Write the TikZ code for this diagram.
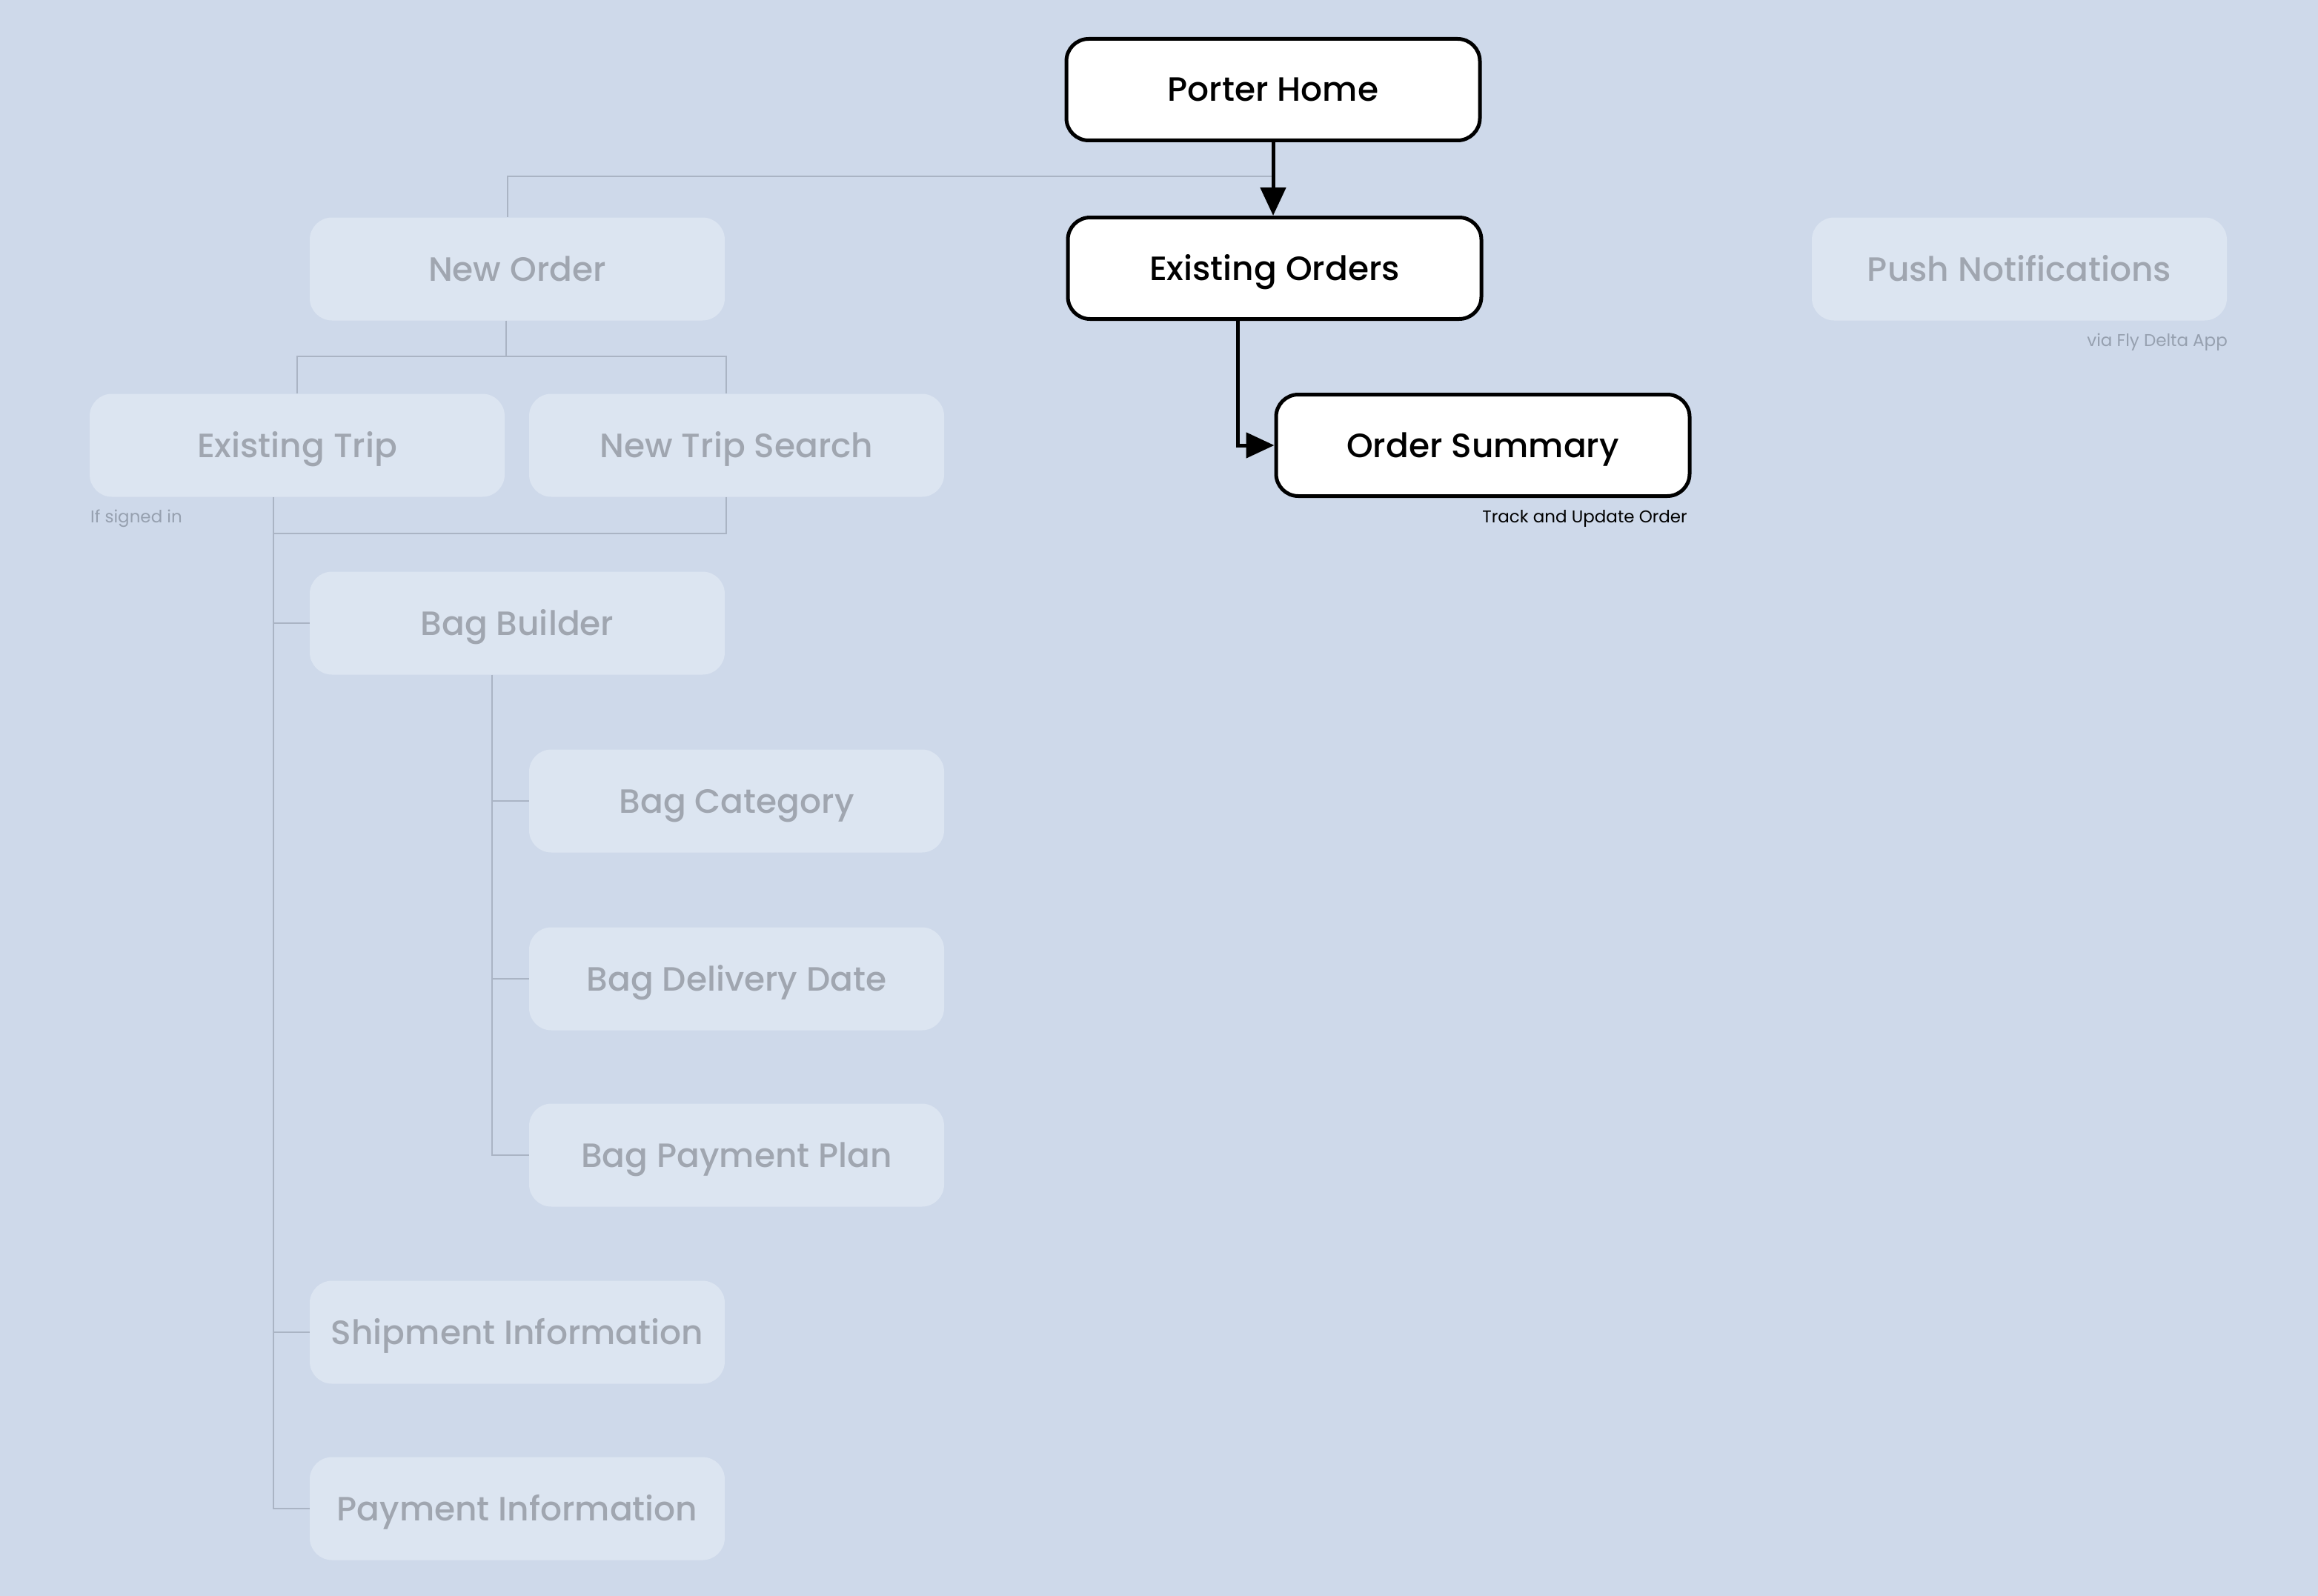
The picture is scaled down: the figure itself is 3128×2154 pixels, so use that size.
\documentclass[tikz,border=0pt]{standalone}
\usepackage{fontspec}
\setmainfont{Poppins}
\newfontfamily\medfont{Poppins Medium}
\usetikzlibrary{arrows.meta}
\definecolor{bgc}{RGB}{206,217,234}
\definecolor{fadefill}{RGB}{220,229,241}
\definecolor{fadetext}{RGB}{160,166,176}
\definecolor{glc}{RGB}{170,180,196}
\definecolor{notec}{RGB}{150,160,175}
\tikzset{
  mainbox/.style={draw=black, line width=5pt, fill=white, rounded corners=30pt,
    minimum width=558pt, minimum height=137pt, inner sep=0pt,
    text height=32pt, text depth=0pt,
    font=\medfont\fontsize{45.5}{48}\selectfont, text=black},
  fadebox/.style={fill=fadefill, rounded corners=30pt,
    minimum width=560pt, minimum height=139pt, inner sep=0pt,
    text height=32pt, text depth=0pt,
    font=\medfont\fontsize{45.5}{48}\selectfont, text=fadetext},
  gl/.style={draw=glc, line width=2pt},
  bl/.style={draw=black, line width=5pt, -{Triangle[length=38pt,width=34pt]}},
  note/.style={font=\fontsize{23}{25}\selectfont, inner sep=0pt},
}
\begin{document}
\begin{tikzpicture}[x=1pt, y=-1pt]
\fill[bgc] (0,0) rectangle (3128,2154);
\useasboundingbox (0,0) rectangle (3128,2154);

% faded nodes
\node[fadebox] (no)  at (698,363)  {New Order};
\node[fadebox] (pn)  at (2725,363) {Push Notifications};
\node[fadebox] (et)  at (401,601)  {Existing Trip};
\node[fadebox] (nts) at (994,601)  {New Trip Search};
\node[fadebox] (bb)  at (698,841)  {Bag Builder};
\node[fadebox] (bc)  at (994,1081) {Bag Category};
\node[fadebox] (bdd) at (994,1321) {Bag Delivery Date};
\node[fadebox] (bpp) at (994,1559) {Bag Payment Plan};
\node[fadebox] (si)  at (698,1798) {Shipment Information};
\node[fadebox] (pi)  at (698,2036) {Payment Information};

% main nodes
\node[mainbox] (ph) at (1718,121) {Porter Home};
\node[mainbox] (eo) at (1720,362) {Existing Orders};
\node[mainbox] (os) at (2001,601) {Order Summary};

% notes
\node[note, anchor=east, text=black] (osn) at (2277,700) {Track and Update Order};
\node[note, anchor=east, text=notec] (pnn) at (3006,462) {via Fly Delta App};
\node[note, anchor=west, text=notec] (etn) at (122,700) {If signed in};

% gray connectors
\coordinate (j0) at (1718,238);
\draw[gl] (j0) -- (685,238) -- ([xshift=-13pt]no.north);
\draw[gl] ([xshift=-15pt]no.south) -- (683,481);
\draw[gl] (et.north) -- (et.north |- 0,481) -- ([xshift=-14pt]nts.north |- 0,481) -- ([xshift=-14pt]nts.north);
\draw[gl] ([xshift=-32pt]et.south) |- (pi.west);
\draw[gl] ([xshift=-14pt]nts.south) |- (369,720);
\draw[gl] (369,0 |- bb.west) -- (bb.west);
\draw[gl] (369,0 |- si.west) -- (si.west);
\draw[gl] ([xshift=-34pt]bb.south) |- (bpp.west);
\draw[gl] (664,0 |- bc.west) -- (bc.west);
\draw[gl] (664,0 |- bdd.west) -- (bdd.west);

% black connectors
\draw[bl] (ph.south) -- (ph.south |- eo.north);
\draw[bl] ([xshift=-50pt]eo.south) |- (os.west);
\end{tikzpicture}
\end{document}
